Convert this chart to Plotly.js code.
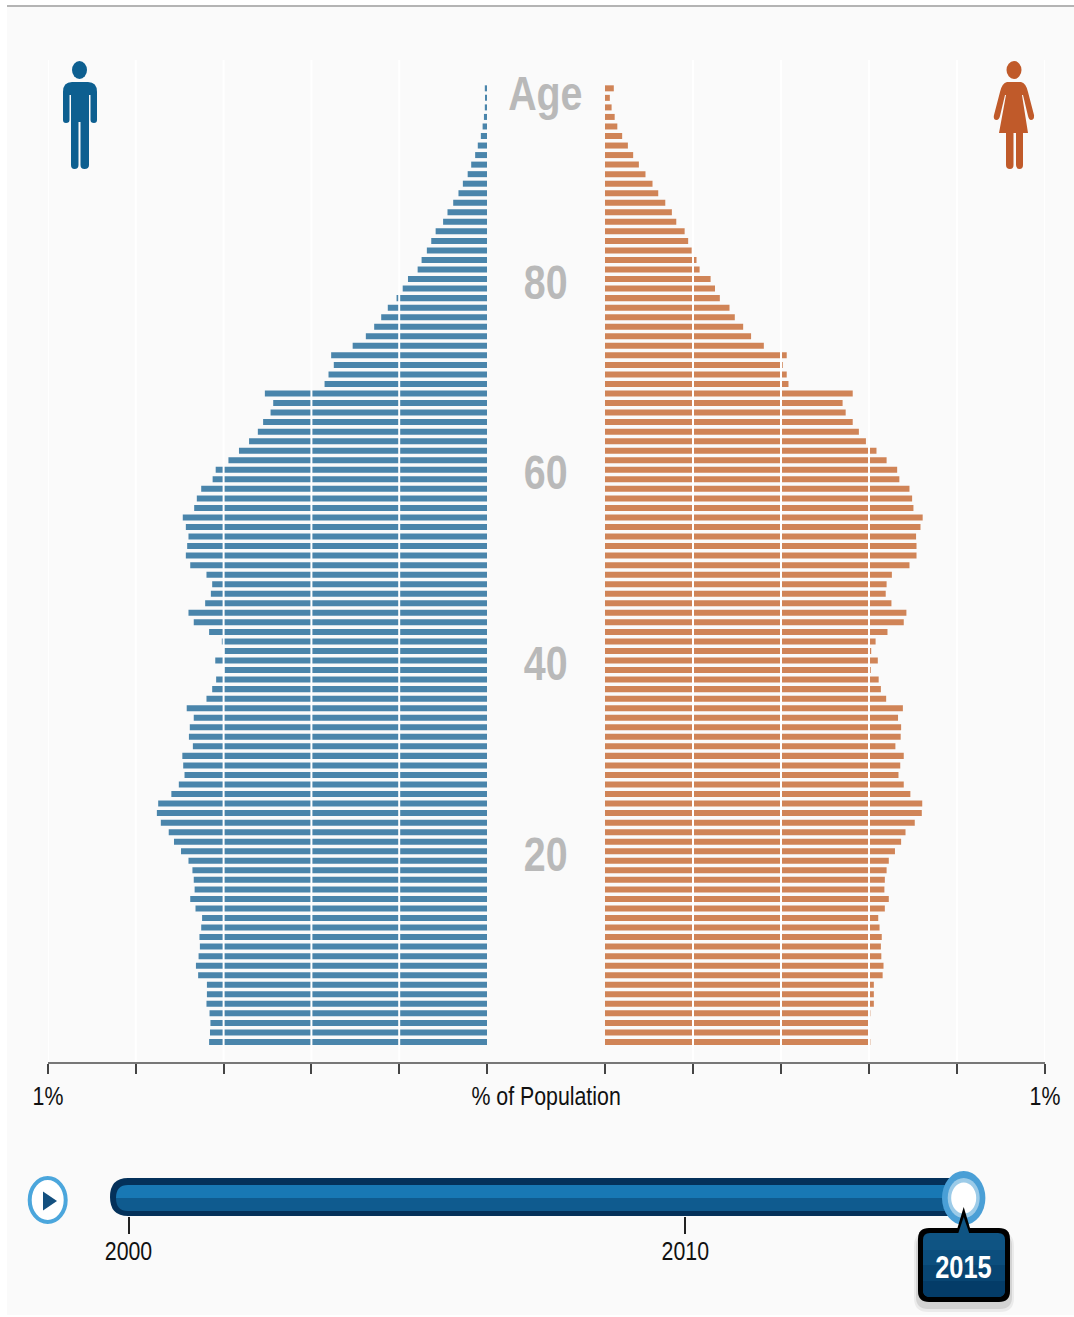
<!DOCTYPE html>
<html>
<head>
<meta charset="utf-8">
<script src="https://cdn.plot.ly/plotly-3.0.1.min.js"></script>
<style>
  html, body { margin: 0; padding: 0; background: #fff; }
</style>
</head>
<body>
<div id="pyramid" style="width:1074px;height:1317px"></div>
<script>
// one row per age, top of the pyramid first
const ages = [100,99,98,97,96,95,94,93,92,91,90,89,88,87,86,85,84,83,82,81,80,
  79,78,77,76,75,74,73,72,71,70,69,68,67,66,65,64,63,62,61,60,
  59,58,57,56,55,54,53,52,51,50,49,48,47,46,45,44,43,42,41,40,
  39,38,37,36,35,34,33,32,31,30,29,28,27,26,25,24,23,22,21,20,
  19,18,17,16,15,14,13,12,11,10,9,8,7,6,5,4,3,2,1,0];

// % of population
const malePct = [.005,.003,.005,.007,.010,.014,.021,.027,.036,.044,.055,.065,.077,.090,.100,.117,.127,.137,.149,.158,.180,
  .192,.206,.226,.241,.257,.276,.306,.355,.349,.361,.370,.506,.487,.493,.510,.522,.542,.565,.589,.618,
  .625,.651,.661,.667,.693,.686,.680,.683,.686,.676,.639,.626,.629,.642,.680,.668,.633,.604,.598,.619,
  .598,.617,.626,.639,.684,.668,.677,.679,.670,.694,.692,.689,.702,.719,.749,.752,.743,.725,.713,.697,
  .680,.671,.668,.666,.676,.664,.649,.651,.655,.654,.657,.663,.658,.638,.638,.639,.632,.630,.631,.633];

const femalePct = [.020,.011,.015,.022,.028,.039,.052,.064,.077,.092,.108,.121,.137,.152,.162,.181,.189,.197,.208,.215,.240,
  .250,.261,.283,.295,.314,.332,.361,.413,.404,.413,.417,.563,.540,.547,.563,.577,.593,.617,.640,.664,
  .669,.692,.698,.701,.722,.717,.707,.708,.708,.692,.652,.640,.638,.651,.685,.679,.642,.615,.605,.620,
  .604,.622,.627,.639,.677,.666,.673,.672,.660,.679,.671,.667,.679,.694,.721,.720,.704,.683,.673,.659,
  .645,.640,.636,.635,.645,.636,.621,.624,.629,.627,.628,.633,.631,.611,.611,.611,.603,.602,.602,.603];

const pctTicks = [0, .2, .4, .6, .8, 1];
const pctTickText = ['', '', '', '', '', '1%'];
const gridVals = [.2, .4, .6, .8, 1];
const ageLabels = [20, 40, 60, 80];
const yearTicks = [2000, 2010];
const firstYear = 2000;
const currentYear = 2015;

const W = 1074, H = 1317;
const FONT = '"Liberation Sans", Arial, sans-serif';
const NARROW_FACTOR = .82; // the reference type is condensed
const BLUE = '#4a85ab', ORANGE = '#d08457';

// reference is laid out in pixels, the paper wants fractions
const px = x => x / W;
const py = y => 1 - y / H;
const domX = (a, b) => [px(a), px(b)];
const domY = (top, bottom) => [py(bottom), py(top)];

function pathPx(str) {
  return str.replace(/(-?[\d.]+) (-?[\d.]+)/g, (m, x, y) => px(+x) + ',' + py(+y));
}

function fillPath(str, color) {
  return { type: 'path', xref: 'paper', yref: 'paper', path: pathPx(str), fillcolor: color, line: { width: 0 }, layer: 'above' };
}

function ellipse(cx, cy, rx, ry, color, lineColor, lineWidth) {
  return {
    type: 'circle', xref: 'paper', yref: 'paper', layer: 'above',
    x0: px(cx - rx), x1: px(cx + rx), y0: py(cy + ry), y1: py(cy - ry),
    fillcolor: color, line: { color: lineColor || color, width: lineWidth || 0 }
  };
}

function rect(x0, y0, x1, y1, color, layer) {
  return {
    type: 'rect', xref: 'paper', yref: 'paper', layer: layer || 'below',
    x0: px(x0), x1: px(x1), y0: py(y1), y1: py(y0),
    fillcolor: color, line: { width: 0 }
  };
}

function roundRect(x0, y0, x1, y1, r) {
  return `M ${x0 + r} ${y0} L ${x1 - r} ${y0} Q ${x1} ${y0} ${x1} ${y0 + r} L ${x1} ${y1 - r} Q ${x1} ${y1} ${x1 - r} ${y1} ` +
    `L ${x0 + r} ${y1} Q ${x0} ${y1} ${x0} ${y1 - r} L ${x0} ${y0 + r} Q ${x0} ${y0} ${x0 + r} ${y0} Z`;
}

const traces = [
  { type: 'bar', orientation: 'h', x: malePct, y: ages, xaxis: 'x', yaxis: 'y', marker: { color: BLUE, line: { width: 0 } }, hoverinfo: 'skip' },
  { type: 'bar', orientation: 'h', x: femalePct, y: ages, xaxis: 'x2', yaxis: 'y', marker: { color: ORANGE, line: { width: 0 } }, hoverinfo: 'skip' },
  // time slider
  { type: 'scatter', mode: 'lines', x: [firstYear, currentYear], y: [.29, .29], xaxis: 'x3', yaxis: 'y3', line: { color: '#1878b4', width: 13 }, hoverinfo: 'skip' }
];

const pctAxis = {
  anchor: 'y', showgrid: false, zeroline: false, showline: true, linecolor: '#777', linewidth: 2,
  ticks: 'outside', ticklen: 10, tickwidth: 2, tickcolor: '#444',
  tickmode: 'array', tickvals: pctTicks, ticktext: pctTickText,
  tickfont: { family: FONT, size: 26, color: '#111' }, fixedrange: true
};

const shapes = [
  rect(7, 7, W, 1315, '#fafafa'),
  rect(7, 5, W, 7, '#b4b4b4'),
  // the axis line carries on through the age column
  { type: 'line', xref: 'paper', yref: 'paper', x0: px(487), x1: px(605), y0: py(1063), y1: py(1063), line: { color: '#777', width: 2 } },
  // slider track
  fillPath('M 128 1178 L 960 1178 L 960 1216 L 128 1216 Q 110 1216 110 1197 Q 110 1178 128 1178 Z', '#04315a'),
  fillPath('M 128 1185 L 960 1185 L 960 1198 L 116 1198 Q 116 1185 128 1185 Z', '#1878b4'),
  fillPath('M 116 1198 L 960 1198 L 960 1211 L 128 1211 Q 116 1211 116 1198 Z', '#0f5b8f'),
  // thumb
  ellipse(963.7, 1198, 21.7, 27, '#4a9fd6'),
  ellipse(963.7, 1198, 16, 20, '#9ccbe8'),
  ellipse(963.7, 1198, 12.5, 15.5, '#ffffff'),
  // year callout, soft shadow first
  fillPath(roundRect(914, 1232, 1014, 1312, 14), 'rgba(0,0,0,0.06)'),
  fillPath(roundRect(916, 1234, 1012, 1309, 12), 'rgba(0,0,0,0.1)'),
  fillPath('M 963.7 1207 L 971.5 1233 L 956 1233 Z', '#000000'),
  fillPath(roundRect(918, 1228, 1010, 1302, 11), '#000000'),
  fillPath(roundRect(923, 1233, 1005, 1297, 7), '#0f5483'),
  fillPath('M 923 1250 L 1005 1250 L 1005 1265 L 923 1265 Z', '#0c4e7d'),
  fillPath('M 923 1265 L 1005 1265 L 1005 1281 L 923 1281 Z', '#084572'),
  fillPath('M 923 1281 L 1005 1281 L 1005 1290 Q 1005 1297 998 1297 L 930 1297 Q 923 1297 923 1290 Z', '#043c68'),
  fillPath('M 958 1234 L 963.7 1217 L 969.5 1234 Z', '#0f5483'),
  // play button
  ellipse(47.7, 1200, 18, 22, '#ffffff', '#4ba6dc', 4),
  fillPath('M 43 1191.5 L 57 1201 L 43 1210.5 Z', '#14507f'),
  // man
  ellipse(79.5, 70, 7.5, 9, '#0d5f90'),
  fillPath('M 63 92 Q 63 82 72 82 L 88 82 Q 97 82 97 92 L 97 120 Q 97 123 94 123 Q 90.5 123 90.5 120 L 90.5 95 L 89 95 L 89 165 Q 89 169 84.5 169 Q 80.5 169 80.5 165 L 80.5 122 L 78.5 122 L 78.5 165 Q 78.5 169 74.5 169 Q 71 169 71 165 L 71 95 L 69.5 95 L 69.5 120 Q 69.5 123 66 123 Q 63 123 63 120 Z', '#0d5f90'),
  // woman
  ellipse(1014, 70, 7.5, 9, '#c05a2a'),
  fillPath('M 1007 82 L 1021 82 Q 1026 83 1028 92 L 1034 115 Q 1034.5 120 1031 120 Q 1029 120 1028 116 L 1023 95 L 1022 95 L 1028 133 L 1023 133 L 1023 165 Q 1023 169 1019.5 169 Q 1016 169 1016 165 L 1016 133 L 1013.5 133 L 1013.5 165 Q 1013.5 169 1010 169 Q 1006 169 1006 165 L 1006 133 L 999 133 L 1006 95 L 1005 95 L 1000 116 Q 999 120 996.5 120 Q 993 120 994 115 L 1000 92 Q 1002 83 1007 82 Z', '#c05a2a')
];

// white grid lines run over the bars
gridVals.forEach(v => {
  ['x', 'x2'].forEach(ref => {
    shapes.push({ type: 'line', xref: ref, yref: 'paper', layer: 'above', x0: v, x1: v, y0: py(60), y1: py(1062), line: { color: '#ffffff', width: 2 } });
  });
});

const ageFont = { family: FONT, size: 48, color: '#b9b9b9', weight: 700 };
const centred = { showarrow: false, xanchor: 'center', yanchor: 'middle' };
const annotations = ageLabels.map(a => Object.assign({
  xref: 'paper', yref: 'y', x: px(545.5), y: a, text: String(a), font: ageFont, yshift: -3
}, centred));
annotations.push(Object.assign({ xref: 'paper', yref: 'paper', x: px(545.5), y: py(93), text: 'Age', font: ageFont }, centred));
annotations.push(Object.assign({ xref: 'paper', yref: 'paper', x: px(546), y: py(1096), text: '% of Population', font: { family: FONT, size: 26, color: '#111' } }, centred));
annotations.push(Object.assign({ xref: 'paper', yref: 'paper', x: px(963.7), y: py(1267), text: String(currentYear), font: { family: FONT, size: 31, color: '#ffffff', weight: 700 } }, centred));

const layout = {
  width: W, height: H,
  margin: { l: 0, r: 0, t: 0, b: 0 },
  paper_bgcolor: '#ffffff', plot_bgcolor: 'rgba(0,0,0,0)',
  showlegend: false, bargap: .37,
  xaxis: Object.assign({}, pctAxis, { domain: domX(48, 487), range: [1, 0] }),
  xaxis2: Object.assign({}, pctAxis, { domain: domX(605, 1045), range: [0, 1] }),
  yaxis: { domain: domY(60, 1062), range: [-2.1, 102.97], visible: false, fixedrange: true },
  xaxis3: {
    anchor: 'y3', domain: domX(128.5, 963.7), range: [firstYear, currentYear],
    showgrid: false, zeroline: false, showline: false,
    ticks: 'outside', ticklen: 17, tickwidth: 2, tickcolor: '#222',
    tickmode: 'array', tickvals: yearTicks, ticktext: yearTicks.map(String),
    ticklabelstandoff: -5,
    tickfont: { family: FONT, size: 26, color: '#111' }, fixedrange: true
  },
  yaxis3: { anchor: 'x3', domain: domY(1178, 1216), range: [-1, 1], visible: false, fixedrange: true },
  shapes: shapes,
  annotations: annotations
};

Plotly.newPlot('pyramid', traces, layout, { displayModeBar: false }).then(gd => {
  // no condensed face is installed, so squeeze the glyphs to the reference width
  gd.querySelectorAll('.annotation-text, .xtick text, .x2tick text, .x3tick text').forEach(t => {
    const len = t.getComputedTextLength();
    if (len > 0) {
      t.setAttribute('textLength', len * NARROW_FACTOR);
      t.setAttribute('lengthAdjust', 'spacingAndGlyphs');
    }
  });
});
</script>
</body>
</html>
